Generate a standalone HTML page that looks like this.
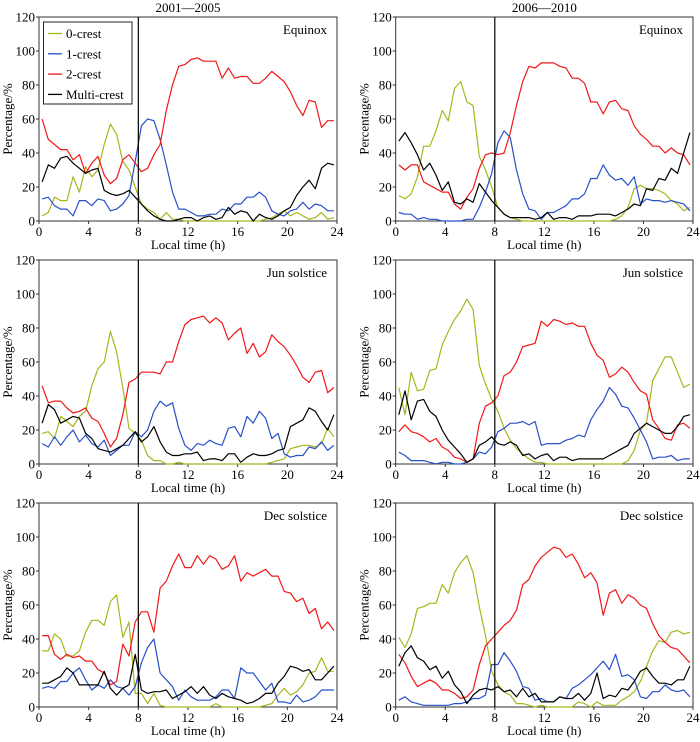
<!DOCTYPE html>
<html><head><meta charset="utf-8"><style>
html,body{margin:0;padding:0;background:#fff;}
svg{display:block;font-family:"Liberation Serif",serif;}
</style></head><body>
<svg id="chart" width="700" height="742" xmlns="http://www.w3.org/2000/svg"></svg>
<script>
const hours = Array.from({length:48},(_,i)=>0.25+0.5*i);
const xTicks = [0,4,8,12,16,20,24];
const yTicks = [0,20,40,60,80,100,120];
const seriesNames = ["0-crest","1-crest","2-crest","Multi-crest"];
const colTitles = ["2001\u20142005","2006\u20142010"];
const rowTitles = ["Equinox","Jun solstice","Dec solstice"];

const p1_green=[3,5,14,12,12,26,17,32,26,30,45,57,51,35,30,20,10,7,5,1,5,1,1,0,0,0,0,0,0,0,0,0,0,0,0,0,1,2,4,6,3,5,3,1,2,5,1,2];
const p1_blue=[13,14,9,7,7,3,12,12,9,13,12,6,7,10,15,35,56,60,59,48,33,17,7,7,5,3,3,4,4,7,6,10,10,14,14,17,14,6,4,3,6,7,11,7,10,9,6,6];
const p1_red=[60,48,45,42,42,36,39,28,34,38,27,22,25,36,39,34,29,31,39,45,65,80,91,92,95,96,94,94,94,84,90,84,85,85,81,81,84,88,85,82,76,68,62,71,70,55,59,59];
const p1_black=[23,33,31,37,38,34,31,28,30,31,18,16,15,16,18,14,10,6,3,1,0,0,1,2,2,0,2,3,1,2,8,4,6,5,0,4,2,1,3,6,8,15,20,24,19,31,34,33];

const p2_green=[15,13,16,26,44,44,53,65,59,78,82,70,68,38,30,20,8,4,2,1,0,0,0,0,0,0,0,0,0,0,0,0,0,0,0,1,3,8,19,21,19,19,18,16,12,10,6,8];
const p2_blue=[5,4,4,1,2,1,1,0,0,0,0,1,1,8,17,28,46,53,49,30,16,7,6,1,5,5,7,9,13,13,16,25,25,33,27,24,25,21,26,10,13,12,12,11,12,11,10,6];
const p2_red=[33,30,33,33,23,21,19,17,17,10,7,14,19,31,39,40,39,40,52,68,82,91,90,93,93,93,91,90,84,84,81,70,70,63,70,71,66,65,56,51,48,44,44,40,43,40,39,33];
const p2_black=[47,52,46,39,30,34,27,18,23,11,10,13,11,22,17,12,8,4,2,2,2,2,1,2,5,1,2,2,1,3,3,3,4,4,4,3,5,7,10,9,19,18,25,24,31,28,40,52];

const p3_green=[18,19,15,28,25,22,28,31,46,56,60,78,66,45,21,18,14,5,2,2,0,0,1,0,0,0,0,0,0,0,0,0,0,0,0,0,0,1,2,3,9,10,11,11,10,12,21,16];
const p3_blue=[12,10,16,11,16,20,13,17,12,10,14,5,8,11,11,19,16,20,31,37,34,36,21,11,8,12,11,14,12,11,21,22,16,28,24,31,27,15,18,6,4,5,5,10,9,13,8,11];
const p3_red=[46,36,37,37,33,30,31,33,27,25,18,10,15,29,48,50,54,54,54,53,60,60,72,82,85,86,87,83,86,83,73,77,80,65,71,63,66,76,72,69,64,58,51,48,54,55,42,45];
const p3_black=[24,35,32,24,26,28,27,18,15,9,8,7,9,11,15,19,13,16,22,13,7,5,5,6,6,7,2,3,3,2,6,6,1,4,6,5,5,6,8,9,22,24,26,33,31,25,20,29];

const p4_green=[45,29,54,43,44,55,56,70,78,85,90,97,91,58,47,38,31,21,14,9,6,3,1,1,0,0,0,0,0,0,0,0,0,0,0,0,0,2,8,20,24,49,56,63,63,54,45,47];
const p4_blue=[7,5,2,2,2,1,0,1,1,0,0,1,3,7,6,10,19,21,24,24,25,23,25,11,12,12,12,14,15,17,16,26,32,37,45,41,34,33,27,20,13,3,4,4,5,2,3,3];
const p4_red=[19,23,19,18,16,13,15,10,8,4,3,1,3,24,34,36,40,52,54,60,69,70,71,84,81,85,84,82,83,81,81,71,64,61,51,53,57,54,48,43,41,26,21,15,14,23,24,21];
const p4_black=[29,43,26,37,38,31,28,20,14,10,6,1,3,11,13,16,12,11,13,11,5,6,3,5,6,2,4,4,2,3,3,3,3,3,5,7,9,11,18,21,24,22,20,18,18,22,28,29];

const p5_green=[33,33,43,40,30,30,33,44,51,51,48,62,66,41,50,8,8,2,8,1,0,0,0,0,0,0,0,0,2,0,0,0,0,0,0,0,1,2,7,11,7,9,13,20,21,29,21,21];
const p5_blue=[11,12,11,15,15,20,23,16,10,13,11,16,12,11,7,12,26,35,40,20,16,12,4,10,6,4,4,4,6,10,10,5,23,20,20,15,10,14,3,3,2,7,3,4,6,10,10,10];
const p5_red=[42,42,31,28,31,29,30,27,27,22,20,13,15,37,30,50,56,56,44,70,74,83,90,82,82,89,84,89,87,81,83,89,74,79,77,79,81,77,77,68,67,62,64,55,58,46,50,45];
const p5_black=[14,14,16,18,23,20,13,13,13,13,21,11,7,11,13,31,10,8,9,9,10,5,7,9,12,8,12,7,5,8,6,5,4,2,3,5,8,8,14,18,24,23,21,22,16,16,20,24];

const p6_green=[41,35,43,58,59,61,61,72,67,79,85,89,79,59,42,21,13,9,7,2,2,1,0,1,0,0,0,0,0,3,2,0,3,1,1,1,4,6,9,15,24,33,39,38,44,45,43,44];
const p6_blue=[4,6,3,2,1,1,1,1,1,2,2,3,5,5,7,25,25,32,27,21,12,11,4,5,3,3,6,5,11,13,16,19,23,27,22,31,18,19,16,6,5,9,9,13,10,9,10,6];
const p6_red=[31,26,18,12,14,16,14,10,10,8,5,6,10,25,36,40,44,48,51,57,72,75,83,88,91,94,93,88,90,84,76,79,73,54,67,69,61,66,64,60,58,49,42,38,35,34,30,26];
const p6_black=[24,32,36,29,27,22,24,17,21,13,9,2,7,10,11,10,12,9,10,6,11,6,8,3,3,3,6,5,5,8,4,8,20,5,7,6,11,10,15,21,23,18,14,14,13,16,16,24];

const panels=[
 [p1_green,p1_blue,p1_red,p1_black],[p2_green,p2_blue,p2_red,p2_black],
 [p3_green,p3_blue,p3_red,p3_black],[p4_green,p4_blue,p4_red,p4_black],
 [p5_green,p5_blue,p5_red,p5_black],[p6_green,p6_blue,p6_red,p6_black]];
const colors=["#a8b61c","#2850c8","#f01818","#000000"];
const svg=document.getElementById('chart');
const NS="http://www.w3.org/2000/svg";
function mk(tag,attrs,parent){const e=document.createElementNS(NS,tag);for(const k in attrs)e.setAttribute(k,attrs[k]);(parent||svg).appendChild(e);return e;}
const colX=[[39,337],[395.7,693]];
const rowY=[[17,221],[260,464],[503,707]];
panels.forEach((pd,pi)=>{
  const r=Math.floor(pi/2), c=pi%2;
  const [x0,x1]=colX[c],[y0,y1]=rowY[r];
  const g=mk('g',{});
  
  
  const sx=v=>x0+(x1-x0)*v/24, sy=v=>y1-(y1-y0)*v/120;
  const frame=mk('rect',{x:x0,y:y0,width:x1-x0,height:y1-y0,fill:'none',stroke:'#333','stroke-width':1},g);
  
  
  xTicks.forEach(t=>{
    mk('line',{x1:sx(t),x2:sx(t),y1:y1,y2:y1+3,stroke:'#333'},g);
    const tx=mk('text',{x:sx(t),y:y1+15,'text-anchor':'middle','font-size':13},g);
    tx.textContent=t;
    
    
  });
  yTicks.forEach(t=>{
    mk('line',{x1:x0-3,x2:x0,y1:sy(t),y2:sy(t),stroke:'#333'},g);
    const tx=mk('text',{x:x0-4,y:sy(t)+4.5,'text-anchor':'end','font-size':13},g);
    tx.textContent=t;
    
    
  });
  const xl=mk('text',{x:(x0+x1)/2,y:y1+28,'text-anchor':'middle','font-size':13},g);
  xl.textContent='Local time (h)';
  
  
  const yl=mk('text',{x:0,y:0,'text-anchor':'middle','font-size':13,transform:`translate(${x0-27},${(y0+y1)/2}) rotate(-90)`},g);
  yl.textContent='Percentage/%';
  
  
  const st=mk('text',{x:x1-10,y:y0+17,'text-anchor':'end','font-size':13},g);
  st.textContent=rowTitles[r];
  
  
  if(r===0){
    const ct=mk('text',{x:(x0+x1)/2,y:12,'text-anchor':'middle','font-size':13},g);
    ct.textContent=colTitles[c];
    
    
  }
  pd.forEach((arr,si)=>{
    const pts=arr.map((v,i)=>sx(hours[i]).toFixed(1)+','+sy(v).toFixed(1)).join(' ');
    const pl=mk('polyline',{points:pts,fill:'none',stroke:colors[si],'stroke-width':1.2,'stroke-linejoin':'round'},g);
    
    
  });
  const vl=mk('line',{x1:sx(8),x2:sx(8),y1:y0,y2:y1,stroke:'#000','stroke-width':1.2},g);
  
  
  if(pi===0){
    const lg=mk('g',{},g);
    
    
    mk('rect',{x:43.5,y:22,width:88.5,height:82,fill:'#fff',stroke:'#222','stroke-width':1},lg);
    seriesNames.forEach((n,i)=>{
      const yy=33.5+20.3*i;
      const e=mk('g',{},lg);
      
      
      mk('line',{x1:48,x2:62,y1:yy,y2:yy,stroke:colors[i],'stroke-width':1.3},e);
      const t=mk('text',{x:66,y:yy+4.5,'font-size':13},e);
      t.textContent=n;
    });
  }
});
</script>
</body></html>
